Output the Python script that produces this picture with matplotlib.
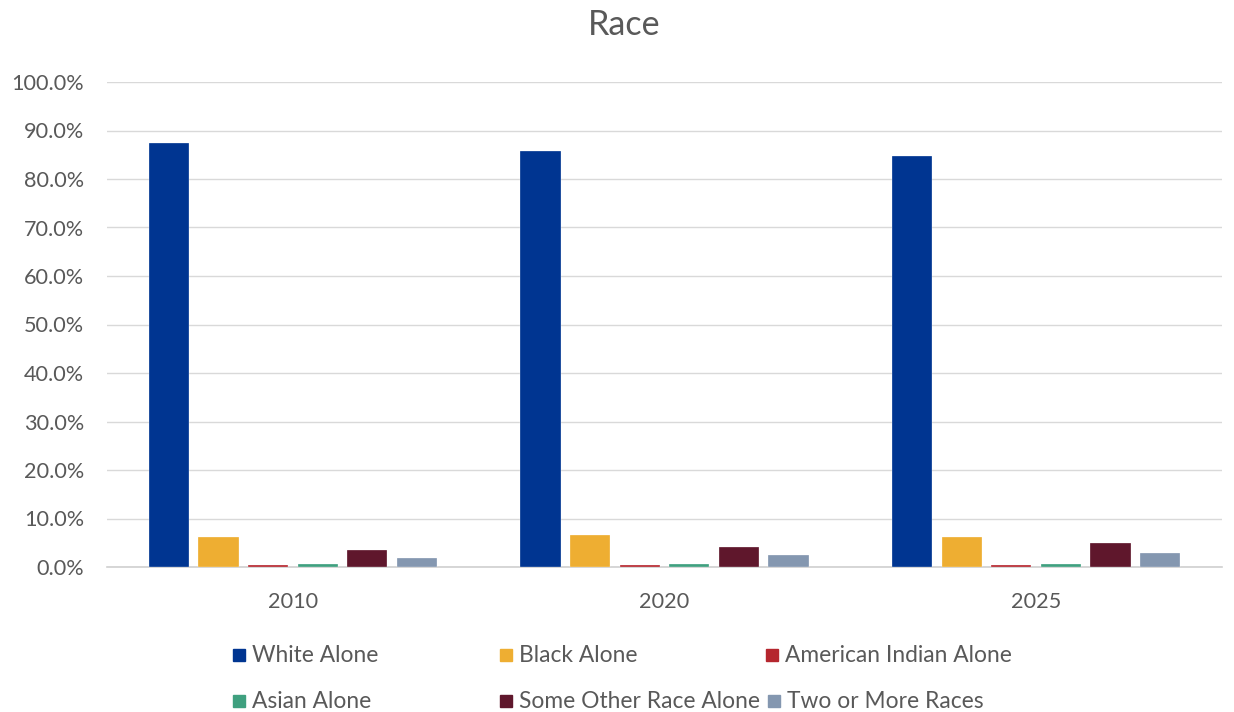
import matplotlib
matplotlib.use("Agg")
from matplotlib import pyplot as plt
from matplotlib.patches import Rectangle
import numpy as np

years = ["2010", "2020", "2025"]
series = ["White Alone", "Black Alone", "American Indian Alone",
          "Asian Alone", "Some Other Race Alone", "Two or More Races"]
white = [87.4, 85.7, 84.7]
black = [6.2, 6.5, 6.2]
amer_indian = [0.4, 0.4, 0.4]
asian = [0.7, 0.7, 0.7]
other = [3.5, 4.2, 4.9]
two_more = [1.8, 2.5, 2.8]
values = [white, black, amer_indian, asian, other, two_more]
colors = ["#003591", "#EEAE32", "#B5262E", "#3FA07F", "#5F172C", "#8497B0"]

plt.rcParams["font.family"] = ["Lato", "DejaVu Sans"]
text_col = "#595959"

fig = plt.figure(figsize=(12.34, 7.12), dpi=100)
W, H = 1234, 712
ax = fig.add_axes([107 / W, 1 - 567 / H, (1222 - 107) / W, (567 - 82) / H])

x = np.arange(len(years))
pitch = 0.1334
width = 0.108
for i, (vals, c) in enumerate(zip(values, colors)):
    ax.bar(x + (i - 2.5) * pitch, np.array(vals) / 100, width, color=c,
           edgecolor="white", linewidth=0.2, zorder=3)

ax.set_xlim(-0.5, 2.5)
ax.set_ylim(0, 1.0)
ax.set_yticks(np.arange(0, 1.01, 0.1))
ax.set_yticklabels([f"{v * 100:.1f}%" for v in np.arange(0, 1.01, 0.1)])
ax.set_xticks(x)
ax.set_xticklabels(years)
ax.tick_params(axis="both", length=0, labelsize=15.6, colors=text_col)
ax.tick_params(axis="y", pad=16.5)
ax.tick_params(axis="x", pad=18)
ax.grid(axis="y", color="#d9d9d9", linewidth=1, zorder=0)
for s in ["top", "right", "left"]:
    ax.spines[s].set_visible(False)
ax.spines["bottom"].set_color("#d0d0d0")
ax.spines["bottom"].set_linewidth(1.2)

fig.text(624 / W, 1 - 25 / H, "Race", ha="center", va="center",
         fontsize=24.5, color=text_col)

# legend placed like the original, entry by entry
leg_pos = [(233, 655), (500, 655), (766, 655),
           (233, 701), (500, 701), (768, 701)]
for (px, py), name, c in zip(leg_pos, series, colors):
    fig.patches.append(Rectangle((px / W, 1 - (py + 6) / H), 12 / W, 12 / H,
                                 transform=fig.transFigure, color=c))
    fig.text((px + 19) / W, 1 - py / H, name, ha="left", va="center",
             fontsize=16.4, color=text_col)

fig.savefig("out.png", dpi=100)
